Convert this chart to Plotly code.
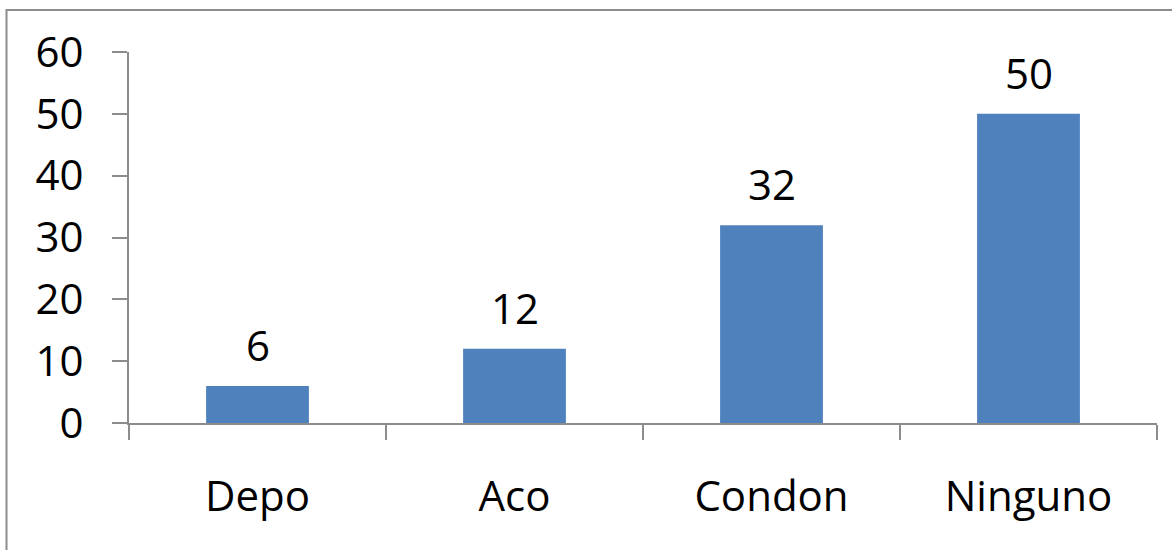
import plotly.graph_objects as go

categories = ["Depo", "Aco", "Condon", "Ninguno"]
values = [6, 12, 32, 50]
y_ticks = [0, 10, 20, 30, 40, 50, 60]

BAR_COLOR = "#4F81BD"
AXIS_COLOR = "#8C8C8C"
FONT = "Open Sans"

W, H = 1172, 550
L, R, T, B = 129, 15, 52, 127
plot_w = W - L - R
plot_h = H - T - B

fig = go.Figure()
fig.add_trace(go.Bar(
    x=categories,
    y=values,
    marker=dict(color=BAR_COLOR, line=dict(width=0)),
    width=0.4,
    hoverinfo="x+y",
))

# value labels above each bar
for c, v in zip(categories, values):
    fig.add_annotation(
        x=c, y=v, text=str(v), showarrow=False,
        xanchor="center", yanchor="bottom", yshift=11,
        font=dict(family=FONT, size=42, color="#000000"),
    )

# chart-area frame (top and left edges visible)
fx0 = (6.5 - L) / plot_w
fy1 = (H - B - 10) / plot_h
fig.add_shape(
    type="rect", xref="paper", yref="paper",
    x0=fx0, x1=1.5, y0=-1.0, y1=fy1,
    line=dict(color=AXIS_COLOR, width=2), fillcolor="rgba(0,0,0,0)",
    layer="below",
)

fig.update_layout(
    width=W, height=H,
    margin=dict(l=L, r=R, t=T, b=B, pad=0),
    paper_bgcolor="white", plot_bgcolor="white",
    showlegend=False,
    font=dict(family=FONT, size=42, color="#000000"),
    xaxis=dict(
        showline=True, linecolor=AXIS_COLOR, linewidth=2,
        ticks="outside", tickson="boundaries", ticklen=15,
        tickcolor=AXIS_COLOR, tickwidth=2,
        showgrid=False, zeroline=False,
        tickfont=dict(family=FONT, size=42, color="#000000"),
        ticklabelstandoff=36,
    ),
    yaxis=dict(
        range=[0, 60], tickvals=y_ticks,
        showline=True, linecolor=AXIS_COLOR, linewidth=2,
        ticks="outside", ticklen=15, tickcolor=AXIS_COLOR, tickwidth=2,
        showgrid=False, zeroline=False,
        tickfont=dict(family=FONT, size=42, color="#000000"),
        ticklabelstandoff=20,
    ),
)

fig.write_html("out.html")
